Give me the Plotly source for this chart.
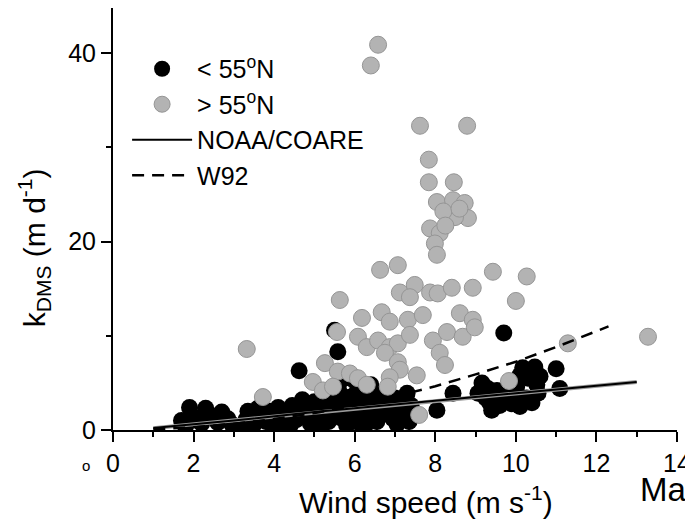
import plotly.graph_objects as go

# ---- data ----
south_x = [1.7, 1.8, 1.9, 2.05, 2.2, 2.3, 2.45, 2.6, 2.7, 2.85, 2.95,
           3.3, 3.35, 3.5, 3.55, 3.75, 3.8, 3.95, 4.1, 4.15, 4.3, 4.45, 4.55, 4.7, 4.75, 4.9,
           5.0, 5.05, 5.2, 5.3, 5.35, 5.45, 5.55, 5.6, 5.65, 5.75, 5.8, 5.9, 6.0, 6.05, 6.1,
           6.2, 6.3, 6.4, 6.5, 6.55, 6.7, 6.8, 6.9, 7.0, 7.1, 7.2, 7.3, 7.4,
           3.25, 3.6, 3.9, 4.0, 4.35, 4.4, 4.95, 5.15, 5.4, 5.5, 5.95, 6.25, 6.35, 6.6, 6.65,
           6.95, 7.05, 7.25, 7.35, 6.0, 6.4, 5.7,
           4.62, 5.58, 5.5,
           8.04, 8.44,
           9.06, 9.16, 9.35, 9.40, 9.53, 9.78, 10.02, 10.17, 10.27, 10.3, 10.47, 10.52, 10.55,
           9.25, 9.6, 9.95, 10.4, 10.6, 9.3, 10.1,
           9.7, 11.0, 11.09, 9.9, 10.1]
south_y = [1.0, 0.4, 2.4, 1.3, 0.7, 2.3, 1.5, 0.8, 1.9, 1.2, 0.6,
           1.1, 2.0, 0.6, 1.6, 2.1, 0.9, 1.5, 2.4, 0.7, 1.7, 2.6, 1.1, 3.2, 2.0, 0.7,
           3.0, 1.5, 2.3, 3.6, 0.9, 2.0, 3.0, 4.3, 1.3, 2.6, 0.5, 3.5, 1.8, 4.0, 0.8,
           2.8, 1.4, 3.5, 2.2, 0.9, 3.0, 1.7, 2.5, 3.4, 1.9, 3.0, 3.9, 2.6,
           0.5, 2.3, 2.0, 0.5, 2.0, 0.5, 2.6, 0.4, 1.5, 3.6, 2.4, 0.4, 2.0, 1.6, 3.8,
           1.2, 0.6, 1.5, 0.9, 5.2, 4.8, 5.4,
           6.3, 8.3, 10.6,
           2.1, 3.9,
           3.9, 5.0, 2.9, 2.1, 4.2, 3.5, 4.6, 6.6, 3.4, 5.5, 6.7, 4.8, 3.9,
           3.4, 2.6, 4.0, 2.9, 5.7, 4.4, 5.8,
           10.3, 6.5, 4.4, 2.8, 2.5]

north_x = [6.58, 6.40, 7.62, 8.79, 7.84, 7.84, 8.46, 8.04, 8.44, 8.73, 8.81, 8.49, 7.87, 8.11,
           7.99, 8.04, 8.20, 8.25, 8.60, 6.63, 7.07, 7.12, 7.49, 7.87, 8.06, 8.41, 8.93, 7.37,
           5.63, 6.18, 6.67, 6.87, 7.32, 7.69, 5.56, 6.08, 6.30, 6.58, 6.87, 7.07, 7.37, 6.75,
           7.07, 7.12, 6.87, 6.82, 7.94, 8.29, 8.61, 8.93, 8.68, 8.11, 8.24, 7.54, 7.60, 5.26,
           4.96, 5.21, 5.58, 5.88, 6.08, 6.30, 5.46, 3.32, 3.72, 9.43, 10.27, 10.0, 8.98, 11.29,
           13.28, 9.83]
north_y = [40.9, 38.7, 32.3, 32.3, 28.7, 26.3, 26.3, 24.2, 24.4, 24.1, 22.5, 22.6, 21.4, 20.9,
           19.8, 18.6, 23.2, 21.7, 23.5, 17.0, 17.5, 14.6, 15.4, 14.6, 14.5, 15.1, 15.1, 14.1,
           13.8, 11.9, 12.5, 11.5, 11.7, 12.2, 10.4, 9.9, 8.8, 9.5, 8.8, 9.2, 10.1, 8.2,
           7.2, 6.4, 5.6, 4.6, 9.5, 10.4, 12.4, 11.7, 9.9, 8.2, 6.9, 5.8, 1.6, 7.1,
           5.1, 4.2, 6.2, 6.0, 5.5, 4.8, 4.6, 8.6, 3.5, 16.8, 16.3, 13.7, 10.9, 9.2,
           9.9, 5.2]

noaa_x = [1, 3, 5, 7, 9, 11, 13]
noaa_y = [0.2, 1.0, 1.9, 2.7, 3.5, 4.3, 5.1]

w92_x = [1, 2, 3, 4, 5, 6, 7, 8, 9, 10, 11, 12.3]
w92_y = [0.07, 0.29, 0.65, 1.16, 1.8, 2.6, 3.55, 4.65, 5.9, 7.25, 8.8, 11.0]

x_ticks = [0, 2, 4, 6, 8, 10, 12, 14]
y_ticks = [0, 20, 40]

FONT = "Arial, Liberation Sans, sans-serif"

fig = go.Figure()
fig.add_trace(go.Scatter(x=south_x, y=south_y, mode="markers", name="< 55<sup>o</sup>N",
                         marker=dict(size=17, color="black", line=dict(width=0))))
fig.add_trace(go.Scatter(x=north_x, y=north_y, mode="markers", name="> 55<sup>o</sup>N",
                         marker=dict(size=17, color="#b3b3b3", line=dict(width=1, color="#959595"))))
fig.add_trace(go.Scatter(x=noaa_x, y=noaa_y, mode="lines", showlegend=False, hoverinfo="skip",
                         line=dict(color="#9a9a9a", width=4)))
fig.add_trace(go.Scatter(x=noaa_x, y=noaa_y, mode="lines", name="NOAA/COARE",
                         line=dict(color="black", width=2)))
fig.add_trace(go.Scatter(x=w92_x, y=w92_y, mode="lines", name="W92",
                         line=dict(color="black", width=2.5, dash="12px,8px")))

axis_common = dict(showline=True, linecolor="black", linewidth=2, showgrid=False, zeroline=False,
                   automargin=False,
                   ticks="outside", ticklen=10, tickwidth=2, tickcolor="black",
                   tickfont=dict(family=FONT, size=25, color="black"))
fig.update_xaxes(range=[0, 14], tickvals=x_ticks, ticktext=[str(v) for v in x_ticks],
                 minor=dict(dtick=1, ticks="outside", ticklen=5, tickwidth=2, tickcolor="black"),
                 **axis_common)
fig.update_yaxes(range=[0, 44.8], tickvals=y_ticks, ticktext=[str(v) for v in y_ticks],
                 minor=dict(tickvals=[10, 30], ticks="outside", ticklen=5, tickwidth=2, tickcolor="black"),
                 **axis_common)

# the page body adds an 8px offset, so the figure is laid out 8px smaller
fig.update_layout(
    width=685, height=520,
    margin=dict(l=105, r=16, t=0, b=98, autoexpand=False),
    paper_bgcolor="white", plot_bgcolor="white",
    font=dict(family=FONT, color="black"),
    showlegend=True,
    legend=dict(x=0.025, y=0.91, xanchor="left", yanchor="top", bgcolor="rgba(0,0,0,0)",
                font=dict(family=FONT, size=25, color="black"), itemwidth=60,
                tracegroupgap=0),
    annotations=[
        dict(text="Wind speed (m s<sup>-1</sup>)", xref="paper", yref="paper",
             x=0.555, y=-0.166, xanchor="center", yanchor="middle", showarrow=False,
             font=dict(family=FONT, size=30, color="black")),
        dict(text="k<sub>DMS</sub> (m d<sup>-1</sup>)", xref="paper", yref="paper",
             x=-0.140, y=0.431, xanchor="center", yanchor="middle", showarrow=False,
             textangle=-90, font=dict(family=FONT, size=30, color="black")),
        dict(text="Mar", xref="paper", yref="paper", x=0.931, y=-0.142,
             xanchor="left", yanchor="middle", showarrow=False,
             font=dict(family=FONT, size=33, color="black")),
        dict(text="o", xref="paper", yref="paper", x=-0.048, y=-0.085,
             xanchor="center", yanchor="middle", showarrow=False,
             font=dict(family=FONT, size=15, color="black")),
    ],
)

fig.write_html("out.html")
